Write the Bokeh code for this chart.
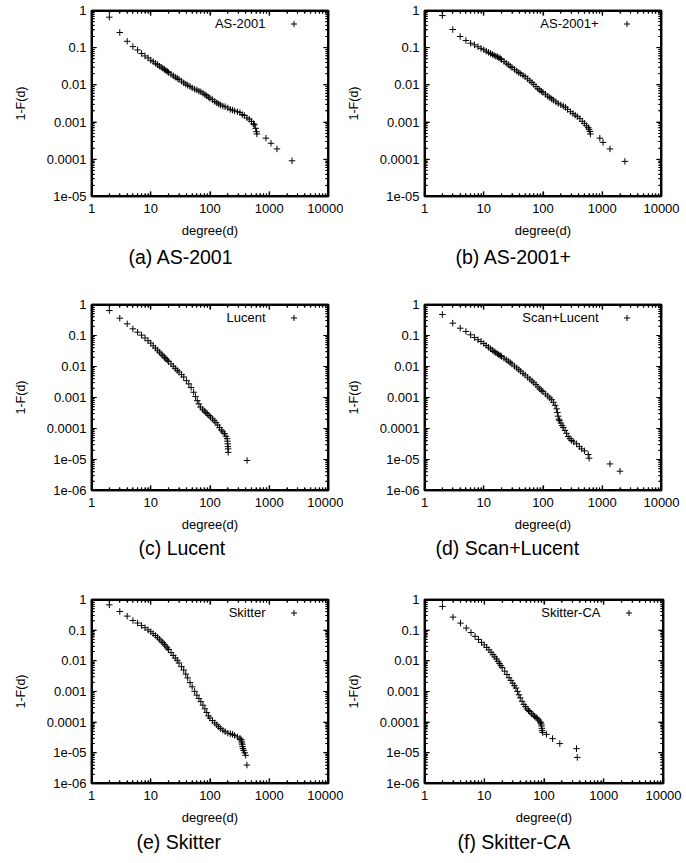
import math
from bokeh.plotting import figure
from bokeh.layouts import column, row
from bokeh.models import (LogAxis, FixedTicker, Label, Title, Legend, LegendItem,
                          CustomJSTickFormatter, ColumnDataSource)
from bokeh.embed import file_html
from bokeh.resources import INLINE

FONT = "Liberation Sans"

# ---------------- axes ticks / labels ----------------
X_TICKS = [1, 10, 100, 1000, 10000]
X_TICK_LABELS = ["1", "10", "100", "1000", "10000"]
Y_TICKS_5 = [1e-05, 0.0001, 0.001, 0.01, 0.1, 1]
Y_TICK_LABELS_5 = ["1e-05", "0.0001", "0.001", "0.01", "0.1", "1"]
Y_TICKS_6 = [1e-06, 1e-05, 0.0001, 0.001, 0.01, 0.1, 1]
Y_TICK_LABELS_6 = ["1e-06", "1e-05", "0.0001", "0.001", "0.01", "0.1", "1"]

names = ["AS-2001", "AS-2001+", "Lucent", "Scan+Lucent", "Skitter", "Skitter-CA"]
captions = ["(a) AS-2001", "(b) AS-2001+", "(c) Lucent", "(d) Scan+Lucent",
            "(e) Skitter", "(f) Skitter-CA"]

# ---------------- data: degree d and 1-F(d) ----------------
as2001_deg = [2, 3, 4, 5, 6, 7, 8, 9, 10, 11, 12, 13, 14, 15, 16, 17, 18, 19, 20,
              22, 24, 26, 28, 30, 33, 36, 39, 42, 46, 50,
              55, 60, 65, 70, 76, 82, 88, 94, 100,
              110, 120, 130, 140, 150, 165, 180, 200,
              220, 240, 260, 290, 320, 350, 380,
              420, 460, 500, 540, 560, 590, 610, 620,
              880, 1070, 1350, 2420]
as2001_ccdf = [0.66, 0.256, 0.149, 0.107, 0.087, 0.070, 0.060, 0.053, 0.046, 0.042, 0.038, 0.035, 0.032, 0.030, 0.028, 0.026, 0.0245, 0.023, 0.0215,
               0.0194, 0.0175, 0.0162, 0.0151, 0.0140, 0.0126, 0.0114, 0.0105, 0.0098, 0.0091, 0.0083,
               0.0077, 0.0073, 0.0068, 0.0065, 0.0060, 0.0055, 0.0051, 0.0047, 0.0044,
               0.0040, 0.0036, 0.0033, 0.0031, 0.0029, 0.0027, 0.0026, 0.0024,
               0.0022, 0.0021, 0.0020, 0.0019, 0.0018, 0.0016, 0.0015,
               0.0013, 0.0012, 0.00105, 0.0009, 0.00085, 0.00068, 0.00055, 0.00048,
               0.00037, 0.00027, 0.00019, 0.000091]

as2001p_deg = [2, 3, 4, 5, 6, 7, 8, 9, 10, 11, 12, 13, 14, 15, 16, 17, 18, 19, 20,
               22, 24, 26, 28, 30, 33, 36, 39, 42, 46, 50,
               55, 60, 65, 70, 76, 82, 88, 94, 100,
               110, 120, 130, 140, 150, 165, 180, 200,
               220, 240, 260, 290, 320, 350, 380,
               420, 460, 500, 540, 580, 600, 620, 630,
               910, 1030, 1350, 2410]
as2001p_ccdf = [0.73, 0.308, 0.20, 0.156, 0.132, 0.119, 0.106, 0.096, 0.088, 0.081, 0.075, 0.070, 0.066, 0.062, 0.059, 0.057, 0.054, 0.051, 0.048,
                0.0425, 0.0384, 0.0350, 0.0318, 0.0293, 0.0262, 0.0236, 0.0214, 0.0199, 0.0181, 0.0166,
                0.0146, 0.0129, 0.0116, 0.0103, 0.0090, 0.0079, 0.0073, 0.0067, 0.0063,
                0.0056, 0.0050, 0.0046, 0.0042, 0.0039, 0.0035, 0.0032, 0.0029,
                0.0027, 0.0025, 0.0022, 0.0019, 0.0017, 0.00154, 0.0014,
                0.00124, 0.00105, 0.00092, 0.00080, 0.00071, 0.00064, 0.00056, 0.00048,
                0.00037, 0.000285, 0.00019, 0.000088]

lucent_deg = [2, 3, 4, 5, 6, 7, 8, 9, 10, 11, 12, 13, 14, 15, 16, 17, 18, 19, 20,
              22, 24, 26, 28, 30,
              33, 36, 40, 44, 48, 53, 57, 61, 65, 69,
              75, 80, 85, 90, 96, 102, 110, 118, 126, 135, 145, 155, 165, 176, 186,
              195, 197, 199, 201, 202, 203, 422]
lucent_ccdf = [0.64, 0.362, 0.238, 0.164, 0.128, 0.103, 0.083, 0.068, 0.057, 0.0466, 0.0393, 0.0336, 0.0291, 0.0254, 0.0224, 0.0199, 0.0178, 0.0160, 0.0145,
               0.0121, 0.0102, 0.0087, 0.0075, 0.0066,
               0.0055, 0.0046, 0.0035, 0.00275, 0.00209, 0.00148, 0.00107, 0.00079, 0.00062, 0.00049,
               0.00042, 0.00037, 0.00033, 0.000295, 0.000263, 0.000234, 0.000204, 0.000178, 0.000155, 0.000129, 0.000107, 0.000089, 0.000078, 0.000068, 0.000056,
               0.000047, 0.000039, 0.000032, 0.000026, 0.000022, 0.000017, 0.0000093]

scanlucent_deg = [2, 3, 4, 5, 6, 7, 8, 9, 10, 11, 12, 13, 14, 15, 16, 17, 18, 19, 20,
                  22, 24, 26, 28, 30, 33, 36, 39, 42, 46, 50,
                  55, 60, 65, 70, 76, 82, 88, 94, 100,
                  110, 120, 130, 140, 150, 160, 170, 175, 180, 185, 190, 200,
                  210, 220, 235, 250, 266, 285, 304, 330, 370, 410, 450, 500,
                  580, 600, 1350, 1990]
scanlucent_ccdf = [0.476, 0.25, 0.172, 0.135, 0.105, 0.086, 0.073, 0.064, 0.055, 0.048, 0.042, 0.0374, 0.0336, 0.0304, 0.0278, 0.0258, 0.0240, 0.0224, 0.021,
                   0.0186, 0.0165, 0.0149, 0.0133, 0.0120, 0.0103, 0.0090, 0.0079, 0.0070, 0.0060, 0.0053,
                   0.0045, 0.0039, 0.0034, 0.0030, 0.0026, 0.0022, 0.0019, 0.0017, 0.00154,
                   0.0013, 0.00112, 0.00097, 0.00085, 0.00070, 0.00056, 0.00043, 0.00033, 0.00025, 0.00020, 0.00018, 0.00015,
                   0.000125, 0.000108, 0.000087, 0.000070, 0.000055, 0.000047, 0.000041, 0.000037, 0.000032, 0.000026, 0.000022, 0.000019,
                   0.0000145, 0.000011, 0.0000072, 0.0000042]

skitter_deg = [2, 3, 4, 5, 6, 7, 8, 9, 10, 11, 12, 13, 14, 15, 16, 17, 18, 19, 20,
               22, 24, 26, 28, 30, 33, 36, 39, 42, 46, 50,
               55, 60, 65, 70, 76, 82, 88, 94, 100,
               110, 120, 130, 140, 150, 165, 180, 200,
               220, 240, 260, 290, 320,
               335, 340, 345, 350, 355, 360, 370, 385, 400, 420]
skitter_ccdf = [0.67, 0.407, 0.287, 0.207, 0.171, 0.142, 0.120, 0.102, 0.089, 0.077, 0.0668, 0.0585, 0.0507, 0.0443, 0.0392, 0.0345, 0.0300, 0.0264, 0.0233,
                0.0185, 0.0150, 0.0124, 0.0104, 0.0085, 0.00646, 0.0050, 0.0037, 0.00277, 0.00195, 0.00142,
                0.00101, 0.00076, 0.00059, 0.000465, 0.000358, 0.000273, 0.000207, 0.00016, 0.000136,
                0.000113, 0.0000946, 0.000082, 0.000071, 0.000062, 0.000055, 0.000049, 0.000044,
                0.000042, 0.000040, 0.000037, 0.000033, 0.000030,
                0.000027, 0.000024, 0.000021, 0.000019, 0.000016, 0.0000138, 0.000012, 0.000010, 0.0000083, 0.0000040]

skitterca_deg = [2, 3, 4, 5, 6, 7, 8, 9, 10, 11, 12, 13, 14, 15, 16, 17, 18, 19, 20,
                 22, 24, 26, 28, 30, 32, 34, 36, 38, 40,
                 43, 46, 49, 52, 55, 58, 62, 66, 70, 74, 78, 82, 86, 88, 90,
                 91, 92, 93, 95, 110, 139, 184, 350, 360]
skitterca_ccdf = [0.59, 0.266, 0.17, 0.117, 0.084, 0.063, 0.050, 0.040, 0.033, 0.0273, 0.0229, 0.0191, 0.0159, 0.0135, 0.0115, 0.0096, 0.0082, 0.0070, 0.0060,
                  0.0046, 0.0036, 0.0028, 0.0023, 0.00187, 0.00155, 0.00130, 0.00101, 0.00078, 0.00062,
                  0.00048, 0.00038, 0.00032, 0.00027, 0.00024, 0.00022, 0.00019, 0.00017, 0.000155, 0.000141, 0.00013, 0.000117, 0.000102, 0.000095, 0.000087,
                  0.000075, 0.000063, 0.000053, 0.000046, 0.000040, 0.000029, 0.000020, 0.0000137, 0.0000071]

series = [(as2001_deg, as2001_ccdf), (as2001p_deg, as2001p_ccdf),
          (lucent_deg, lucent_ccdf), (scanlucent_deg, scanlucent_ccdf),
          (skitter_deg, skitter_ccdf), (skitterca_deg, skitterca_ccdf)]
y_axes = [(Y_TICKS_5, Y_TICK_LABELS_5), (Y_TICKS_5, Y_TICK_LABELS_5),
          (Y_TICKS_6, Y_TICK_LABELS_6), (Y_TICKS_6, Y_TICK_LABELS_6),
          (Y_TICKS_6, Y_TICK_LABELS_6), (Y_TICKS_6, Y_TICK_LABELS_6)]

# ---------------- layout (pixels) ----------------
# (border_left, frame_w, border_right, border_top, frame_h, border_bottom,
#  caption_offset, caption_standoff)
LAYOUT = [(91, 237, 15, 10, 186, 92, 37, 6),
          (76, 237, 28, 10, 186, 92, 31, 6),
          (91, 237, 15, 16, 186, 86, 47, 0),
          (76, 237, 28, 16, 186, 86, 11, 0),
          (91, 237, 15, 23, 184, 75, 45, 2),
          (68, 239, 34, 23, 184, 75, 33, 2)]


def minor_ticks(ticks):
    out = []
    for t in ticks[:-1]:
        for m in range(2, 10):
            out.append(m * t)
    return out


def style_axis(ax):
    ax.major_tick_in = 5
    ax.major_tick_out = 0
    ax.minor_tick_in = 3
    ax.minor_tick_out = 0
    ax.axis_line_color = "black"
    ax.axis_line_width = 1.5
    ax.major_tick_line_color = "black"
    ax.major_tick_line_width = 1.2
    ax.minor_tick_line_color = "black"
    ax.minor_tick_line_width = 1.2
    ax.major_label_text_font = FONT
    ax.major_label_text_font_size = "13px"
    ax.major_label_text_color = "black"
    ax.axis_label_text_font = FONT
    ax.axis_label_text_font_style = "normal"
    ax.axis_label_text_color = "black"


def make_panel(i):
    deg, ccdf = series[i]
    yt, yl = y_axes[i]
    bl, fw, br, bt, fh, bb, capoff, capstand = LAYOUT[i]
    p = figure(x_axis_type="log", y_axis_type="log",
               x_range=(X_TICKS[0], X_TICKS[-1]), y_range=(yt[0], yt[-1]),
               frame_width=fw, frame_height=fh,
               min_border_left=bl, min_border_right=br,
               min_border_top=bt, min_border_bottom=bb,
               output_backend="svg", toolbar_location=None,
               x_axis_label="degree(d)", y_axis_label="1-F(d)")
    p.grid.visible = False
    p.outline_line_color = "black"
    p.outline_line_width = 1.5
    p.background_fill_color = "white"
    p.border_fill_color = "white"

    xt = FixedTicker(ticks=X_TICKS, minor_ticks=minor_ticks(X_TICKS))
    ytk = FixedTicker(ticks=yt, minor_ticks=minor_ticks(yt))
    xa = p.xaxis[0]
    ya = p.yaxis[0]
    xa.ticker = xt
    ya.ticker = ytk
    xa.major_label_overrides = dict(zip(X_TICKS, X_TICK_LABELS))
    ya.major_label_overrides = dict(zip(yt, yl))
    style_axis(xa)
    style_axis(ya)
    xa.major_label_standoff = 7
    xa.axis_label_standoff = 7
    xa.axis_label_text_font_size = "13px"
    ya.major_label_standoff = 5
    ya.axis_label_standoff = 16
    ya.axis_label_text_font_size = "12.5px"

    # mirrored tick marks on the top and right edges
    top = LogAxis(ticker=xt, formatter=CustomJSTickFormatter(code="return ''"),
                  major_label_standoff=0)
    right = LogAxis(ticker=ytk, formatter=CustomJSTickFormatter(code="return ''"),
                    major_label_standoff=0)
    style_axis(top)
    style_axis(right)
    top.major_label_text_font_size = "0px"
    right.major_label_text_font_size = "0px"
    p.add_layout(top, "above")
    p.add_layout(right, "right")

    # frame box and inward ticks also drawn as glyphs on the frame edges
    x0, x1, y0, y1 = X_TICKS[0], X_TICKS[-1], yt[0], yt[-1]
    p.quad(left=[x0], right=[x1], bottom=[y0], top=[y1], fill_color=None,
           line_color="black", line_width=3)
    xmin = minor_ticks(X_TICKS)
    ymin = minor_ticks(yt)
    for yy in (y0, y1):
        p.scatter(x=X_TICKS, y=[yy] * len(X_TICKS), marker="dash", angle=math.pi / 2,
                  size=10, line_color="black", line_width=1)
        p.scatter(x=xmin, y=[yy] * len(xmin), marker="dash", angle=math.pi / 2,
                  size=6, line_color="black", line_width=1)
    for xx in (x0, x1):
        p.scatter(x=[xx] * len(yt), y=yt, marker="dash", size=10,
                  line_color="black", line_width=1)
        p.scatter(x=[xx] * len(ymin), y=ymin, marker="dash", size=6,
                  line_color="black", line_width=1)

    src = ColumnDataSource(data=dict(d=deg, f=ccdf))
    r = p.scatter("d", "f", source=src, marker="cross", size=6.5,
                  line_color="black", line_width=1)

    leg = Legend(items=[LegendItem(label="", renderers=[r])],
                 location=(fw - 35 - 7.5, fh - 13 - 7.5),
                 glyph_width=15, glyph_height=15, padding=0, margin=0, spacing=0,
                 label_standoff=0, label_width=0, label_height=0,
                 border_line_alpha=0, background_fill_alpha=0)
    p.add_layout(leg)
    p.add_layout(Label(x=fw - 63, y=fh - 13, x_units="screen", y_units="screen",
                       text=names[i], text_align="right", text_baseline="middle",
                       text_font=FONT, text_font_size="13px", text_color="black"))
    p.add_layout(Title(text=captions[i], align="left", offset=capoff,
                       text_font=FONT, text_font_size="19.5px",
                       text_font_style="normal", text_color="black",
                       standoff=capstand),
                 "below")
    return p


panels = [make_panel(i) for i in range(6)]
layout = column(row(panels[0], panels[1]), row(panels[2], panels[3]),
                row(panels[4], panels[5]))

open("out.html", "w").write(file_html(layout, INLINE))
